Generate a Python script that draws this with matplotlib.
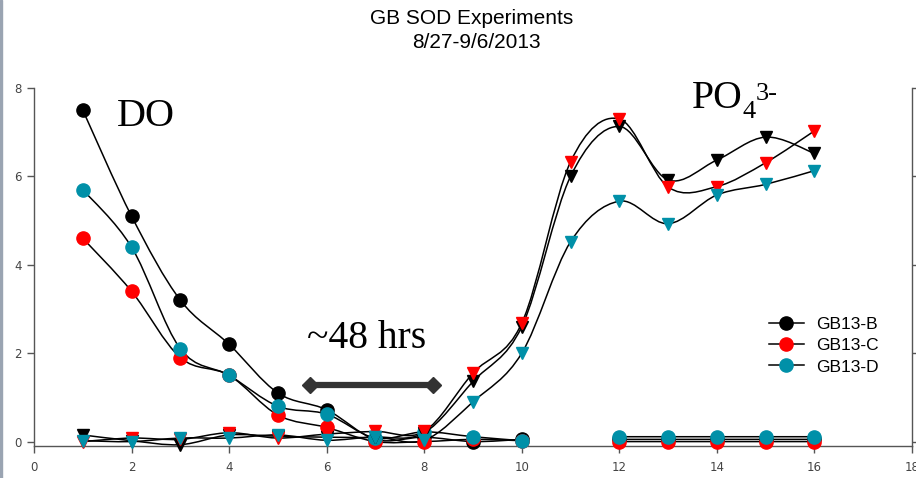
import numpy as np
import matplotlib
matplotlib.use("Agg")
import matplotlib.pyplot as plt
from matplotlib.path import Path
from matplotlib.patches import PathPatch, Rectangle
from matplotlib.lines import Line2D

# sampling index (x axis)
x = [1, 2, 3, 4, 5, 6, 7, 8, 9, 10, 11, 12, 13, 14, 15, 16]

# dissolved oxygen (circles), no reading at 11
do_b = [7.5, 5.1, 3.2, 2.2, 1.1, 0.72, 0.05, 0.1, 0.0, 0.05, np.nan, 0.05, 0.05, 0.05, 0.05, 0.05]
do_c = [4.6, 3.4, 1.9, 1.5, 0.6, 0.32, 0.0, 0.0, 0.05, 0.02, np.nan, 0.0, 0.0, 0.0, 0.0, 0.0]
do_d = [5.7, 4.4, 2.1, 1.5, 0.8, 0.62, 0.08, 0.22, 0.11, 0.02, np.nan, 0.11, 0.11, 0.11, 0.11, 0.11]

# phosphate (down triangles)
po4_b = [0.15, 0.02, -0.07, 0.15, 0.12, 0.1, 0.1, 0.2, 1.36, 2.6, 6.0, 7.13, 5.92, 6.37, 6.89, 6.52]
po4_c = [0.0, 0.08, 0.05, 0.2, 0.08, 0.17, 0.23, 0.23, 1.55, 2.68, 6.33, 7.30, 5.76, 5.77, 6.31, 7.03]
po4_d = [0.02, 0.0, 0.08, 0.08, 0.15, 0.03, 0.1, 0.03, 0.9, 2.0, 4.52, 5.44, 4.93, 5.58, 5.82, 6.13]

labels = ["GB13-B", "GB13-C", "GB13-D"]
colors = ["#000000", "#ff0000", "#0090a8"]

GRAY = "#555555"
SERIF = "Liberation Serif"


def smooth_path(xs, ys):
    """Excel-like smoothed line: cubic bezier segments through the points."""
    runs, cur = [], []
    for a, b in zip(xs, ys):
        if np.isnan(b):
            if cur:
                runs.append(cur)
            cur = []
        else:
            cur.append(np.array((a, b), dtype=float))
    if cur:
        runs.append(cur)
    verts, codes = [], []
    for run in runs:
        n = len(run)
        verts.append(run[0]); codes.append(Path.MOVETO)
        for i in range(n - 1):
            p0 = run[i - 1] if i > 0 else run[i]
            p1, p2 = run[i], run[i + 1]
            p3 = run[i + 2] if i + 2 < n else run[i + 1]
            verts += [p1 + (p2 - p0) / 6.0, p2 - (p3 - p1) / 6.0, p2]
            codes += [Path.CURVE4] * 3
    return Path(verts, codes)


fig = plt.figure(figsize=(9.16, 4.78), dpi=100)
ax = fig.add_axes([34 / 916, 32 / 478, 878 / 916, 358 / 478])

for ys in [do_b, do_c, do_d, po4_b, po4_c, po4_d]:
    ax.add_patch(PathPatch(smooth_path(x, ys), facecolor="none",
                           edgecolor="black", lw=1.1, zorder=2, clip_on=False))

for ys, c in zip([do_b, do_c, do_d], colors):
    ax.plot(x, ys, ls="none", marker="o", ms=9.5, color=c, mec=c,
            zorder=3, clip_on=False)
for ys, c in zip([po4_b, po4_c, po4_d], colors):
    ax.plot(x, ys, ls="none", marker="v", ms=9, color=c, mec=c,
            zorder=3, clip_on=False)

# ~48 hrs bar
ax.plot([5.66, 8.18], [1.29, 1.29], color="#333333", lw=4.5, zorder=4)
ax.plot([5.66, 8.18], [1.29, 1.29], ls="none", marker="D", ms=8,
        color="#333333", zorder=4)

ax.text(5.6, 2.12, "~48 hrs", family=SERIF, fontsize=28.5,
        ha="left", va="baseline")
ax.text(1.7, 7.14, "DO", family=SERIF, fontsize=29,
        ha="left", va="baseline")
ax.text(13.48, 7.55, "PO", family=SERIF, fontsize=28.5,
        ha="left", va="baseline")
ax.text(14.53, 7.32, "4", family=SERIF, fontsize=19,
        ha="left", va="baseline")
ax.text(14.79, 7.73, "3-", family=SERIF, fontsize=19,
        ha="left", va="baseline")

ax.set_xlim(0, 18)
ax.set_ylim(-0.1, 8)
ax.set_xticks(range(0, 19, 2))
ax.set_yticks(range(0, 9, 2))
ax.spines["top"].set_visible(False)
for s in ["left", "right", "bottom"]:
    ax.spines[s].set_color(GRAY)
    ax.spines[s].set_linewidth(1.0)
ax.tick_params(axis="both", direction="out", length=5, width=1, color=GRAY,
               labelsize=8.5, labelcolor="#444444")
ax.tick_params(axis="y", right=True, labelright=False, pad=4)
ax.tick_params(axis="x", pad=6)

handles = [Line2D([], [], color="black", lw=1.1, marker="o", ms=9.5,
                  mfc=c, mec=c) for c in colors]
ax.legend(handles, labels, loc="center left", bbox_to_anchor=(0.829, 0.28),
          frameon=False, handlelength=2.0, handletextpad=0.75,
          labelspacing=0.35, borderaxespad=0,
          prop={"family": "Liberation Sans", "size": 12.5})

fig.text(472 / 916, 1 - 19 / 478, "GB SOD Experiments", ha="center",
         va="center", fontsize=15, family="Liberation Sans")
fig.text(476 / 916, 1 - 43 / 478, "8/27-9/6/2013", ha="center",
         va="center", fontsize=15, family="Liberation Sans")

# thin window border visible at the left edge of the screenshot
fig.patches.append(Rectangle((0, 0), 2 / 916, 1, transform=fig.transFigure,
                             color="#9aa4b2", zorder=0))

fig.savefig("out.png", dpi=100)
